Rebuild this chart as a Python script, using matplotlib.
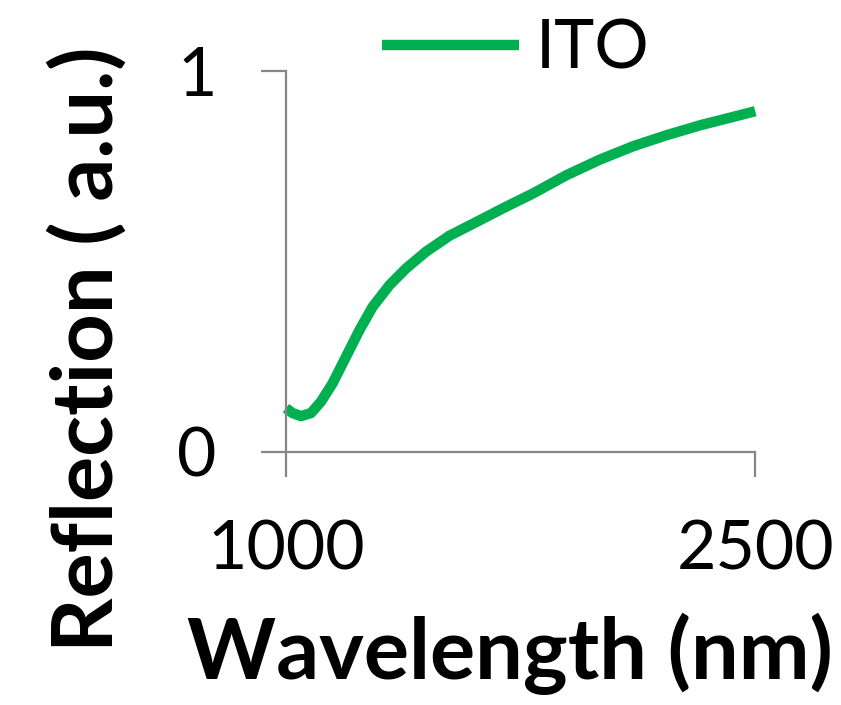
import matplotlib.pyplot as plt

# ITO reflection spectrum
wavelength = [1000, 1021, 1048, 1080, 1112, 1149, 1192, 1235, 1277, 1331, 1384, 1448,
              1523, 1609, 1694, 1790, 1897, 2004, 2110, 2217, 2324, 2420, 2500]
reflection = [0.115, 0.102, 0.094, 0.102, 0.132, 0.180, 0.250, 0.320, 0.381, 0.438, 0.482, 0.526,
              0.568, 0.604, 0.640, 0.679, 0.727, 0.768, 0.803, 0.832, 0.858, 0.878, 0.895]

x_ticks = [1000, 2500]
y_ticks = [0, 1]

plt.rcParams['font.family'] = ['Lato', 'DejaVu Sans']

fig = plt.figure(figsize=(8.41, 7.05), dpi=100)
ax = fig.add_axes([0.340, 0.359, 0.558, 0.540])

ax.plot(wavelength, reflection, color='#00B050', lw=7.5, solid_capstyle='butt',
        solid_joinstyle='round', label='ITO', clip_on=False)

ax.set_xlim(1000, 2500)
ax.set_ylim(0, 1)
ax.set_xticks(x_ticks)
ax.set_yticks(y_ticks)

for s in ['top', 'right']:
    ax.spines[s].set_visible(False)
for s in ['left', 'bottom']:
    ax.spines[s].set_color('#868686')
    ax.spines[s].set_linewidth(1.6)

ax.tick_params(axis='both', direction='out', length=18, width=1.6, color='#868686', labelsize=49)
ax.tick_params(axis='y', pad=32)
ax.tick_params(axis='x', pad=31)

fig.text(0.103, 0.505, 'Reflection ( a.u.)', rotation=90, fontsize=61, fontweight='bold',
         ha='center', va='center')
fig.text(0.606, 0.072, 'Wavelength (nm)', fontsize=61, fontweight='bold', ha='center', va='center')

ax.legend(loc='center', bbox_to_anchor=(0.49, 1.057), frameon=False, fontsize=49,
          handlelength=2.0, handletextpad=0.25, borderpad=0)

fig.savefig('out.png', dpi=100)
